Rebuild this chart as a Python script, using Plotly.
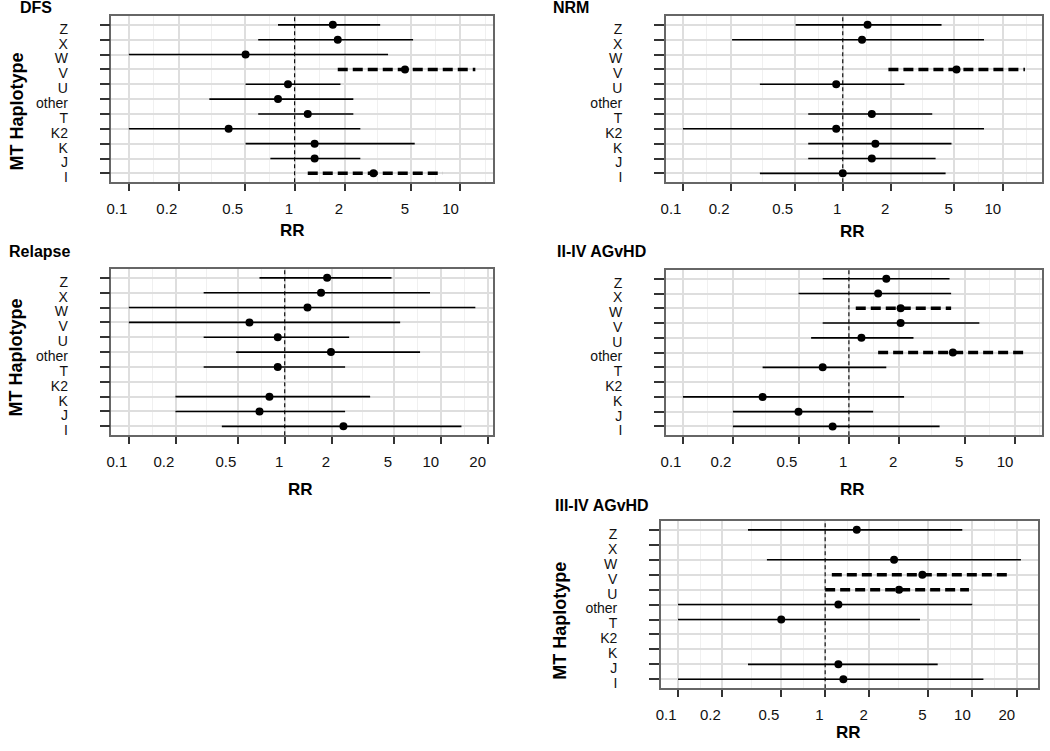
import math
import plotly.graph_objects as go

# ---------------- data ----------------
categories = ["I", "J", "K", "K2", "T", "other", "U", "V", "W", "X", "Z"]  # bottom -> top

panel_titles = ["DFS", "NRM", "Relapse", "II-IV AGvHD", "III-IV AGvHD"]

# estimates / lower CI / upper CI, order follows `categories`; None = not estimated
dfs_est = [2.99, 1.32, 1.32, 0.40, 1.20, 0.794, 0.912, 4.63, 0.506, 1.82, 1.70]
dfs_lo  = [1.20, 0.714, 0.506, 0.10, 0.603, 0.306, 0.506, 1.82, 0.10, 0.603, 0.794]
dfs_hi  = [7.83, 2.49, 5.30, 2.49, 2.26, 2.26, 1.89, 12.3, 3.66, 5.18, 3.28]
dfs_sig = [1, 0, 0, 0, 0, 0, 0, 1, 0, 0, 0]

nrm_est = [1.00, 1.52, 1.60, 0.91, 1.52, None, 0.91, 5.15, None, 1.32, 1.43]
nrm_lo  = [0.303, 0.608, 0.608, 0.10, 0.608, None, 0.303, 1.93, None, 0.203, 0.507]
nrm_hi  = [4.40, 3.81, 4.79, 7.65, 3.63, None, 2.43, 13.8, None, 7.65, 4.15]
nrm_sig = [0, 0, 0, 0, 0, 0, 0, 1, 0, 0, 0]

rel_est = [2.38, 0.689, 0.798, None, 0.902, 1.98, 0.902, 0.594, 1.40, 1.71, 1.87]
rel_lo  = [0.395, 0.199, 0.199, None, 0.302, 0.488, 0.302, 0.10, 0.10, 0.302, 0.689]
rel_hi  = [13.6, 2.44, 3.53, None, 2.44, 7.38, 2.59, 5.50, 16.7, 8.55, 4.84]
rel_sig = [0, 0, 0, 0, 0, 0, 0, 0, 0, 0, 0]

ag24_est = [0.798, 0.497, 0.302, None, 0.695, 4.23, 1.19, 2.05, 2.05, 1.50, 1.68]
ag24_lo  = [0.20, 0.20, 0.10, None, 0.302, 1.50, 0.592, 0.695, 1.10, 0.497, 0.695]
ag24_hi  = [3.52, 1.40, 2.15, None, 1.68, 11.5, 2.45, 6.11, 4.13, 4.13, 4.04]
ag24_sig = [0, 0, 0, 0, 0, 1, 0, 0, 1, 0, 0]

ag34_est = [1.33, 1.23, None, None, 0.503, 1.23, 3.18, 4.58, 2.94, None, 1.64]
ag34_lo  = [0.10, 0.299, None, None, 0.10, 0.10, 1.00, 1.11, 0.402, None, 0.299]
ag34_hi  = [11.9, 5.82, None, None, 4.41, 10.0, 9.49, 18.5, 21.4, None, 8.55]
ag34_sig = [0, 0, 0, 0, 0, 0, 1, 1, 0, 0, 0]

x_breaks = [0.1, 0.2, 0.5, 1, 2, 5, 10, 20]
x_break_labels = ["0.1", "0.2", "0.5", "1", "2", "5", "10", "20"]

panels = [
    (dfs_est, dfs_lo, dfs_hi, dfs_sig),
    (nrm_est, nrm_lo, nrm_hi, nrm_sig),
    (rel_est, rel_lo, rel_hi, rel_sig),
    (ag24_est, ag24_lo, ag24_hi, ag24_sig),
    (ag34_est, ag34_lo, ag34_hi, ag34_sig),
]

# ---------------- layout geometry (pixels) ----------------
W, H = 1050, 751
# left, right, top, bottom of each panel box
boxes = [
    (107, 490, 16, 183),
    (664, 1042, 16, 183),
    (107, 490, 270, 437),
    (664, 1042, 271, 437),
    (659, 1038, 523, 691),
]
# panel title (x left, y center)
title_pos = [(13, 8), (549, 8), (2, 253), (553, 253), (551, 508)]
# RR title centre
rr_pos = [(289, 231), (852, 232), (297, 491), (852, 491), (848, 735)]
# MT Haplotype title centre
mt_pos = {0: (12, 112), 2: (11, 359), 4: (557, 623)}

FONT = "Liberation Sans, Arial, Helvetica, sans-serif"

fig = go.Figure()
annotations = []


def px2paper_x(v):
    return v / W


def px2paper_y(v):
    return 1 - v / H


for i, (est, lo, hi, sig) in enumerate(panels):
    n = i + 1
    xa = "x" if n == 1 else f"x{n}"
    ya = "y" if n == 1 else f"y{n}"

    # range like ggplot: 5% expansion in log space
    lows = [math.log10(v) for v in lo if v is not None]
    highs = [math.log10(v) for v in hi if v is not None]
    lmin, lmax = min(lows), max(highs)
    ex = 0.05 * (lmax - lmin)
    xr = [lmin - ex, lmax + ex]

    # vertical reference line at RR=1
    fig.add_trace(go.Scatter(
        x=[1, 1], y=[-0.6, len(categories) - 1 + 0.6], mode="lines",
        line=dict(color="black", width=1.1, dash="4px,3px"),
        xaxis=xa, yaxis=ya, showlegend=False, hoverinfo="skip"))

    # CI segments: solid and dashed (significant)
    for flag, width, dash in [(0, 1.6, "solid"), (1, 3.5, "10px,5px")]:
        xs, ys = [], []
        for k, cat in enumerate(categories):
            if est[k] is None or sig[k] != flag:
                continue
            xs += [lo[k], hi[k], None]
            ys += [k, k, None]
        if xs:
            fig.add_trace(go.Scatter(
                x=xs, y=ys, mode="lines",
                line=dict(color="black", width=width, dash=dash),
                xaxis=xa, yaxis=ya, showlegend=False))

    px_ = [est[k] for k in range(len(categories)) if est[k] is not None]
    py_ = [k for k in range(len(categories)) if est[k] is not None]
    fig.add_trace(go.Scatter(
        x=px_, y=py_, mode="markers",
        marker=dict(color="black", size=8, symbol="circle"),
        xaxis=xa, yaxis=ya, showlegend=False))

    l, r, t, b = boxes[i]
    tv = [v for v in x_breaks if xr[0] <= math.log10(v) <= xr[1]]
    tt = [x_break_labels[x_breaks.index(v)] for v in tv]
    # minor grid: midpoints between breaks in log space
    logs = [math.log10(v) for v in x_breaks]
    step_logs = [-1.30103] + logs + [1.60206]
    minor = []
    for a, c in zip(step_logs[:-1], step_logs[1:]):
        m = (a + c) / 2
        if xr[0] <= m <= xr[1]:
            minor.append(10 ** m)

    fig.layout[("xaxis" if n == 1 else f"xaxis{n}")] = dict(
        type="log", range=xr, domain=[px2paper_x(l), px2paper_x(r)],
        anchor=ya, tickmode="array", tickvals=tv, ticktext=tt,
        ticks="outside", ticklen=7, tickwidth=1.5, tickcolor="#333333",
        ticklabelposition="outside left", ticklabelstandoff=12,
        tickfont=dict(family=FONT, size=15, color="#111111"),
        showgrid=True, gridcolor="#DEDEDE", gridwidth=1.5,
        minor=dict(tickmode="array", tickvals=minor, showgrid=True,
                   gridcolor="#F0F0F0", gridwidth=1, ticks=""),
        showline=True, mirror=True, linecolor="#666666", linewidth=1.5,
        zeroline=False, fixedrange=True)
    fig.layout[("yaxis" if n == 1 else f"yaxis{n}")] = dict(
        range=[-0.6, len(categories) - 1 + 0.6],
        domain=[px2paper_y(b), px2paper_y(t)], anchor=xa,
        tickmode="array", tickvals=list(range(len(categories))), ticktext=categories,
        ticks="outside", ticklen=10, tickwidth=1.5, tickcolor="#333333",
        ticklabelposition="outside", ticklabelstandoff=29, ticklabelshift=4,
        tickfont=dict(family=FONT, size=14, color="#111111"),
        showgrid=True, gridcolor="#DEDEDE", gridwidth=1.5,
        showline=True, mirror=True, linecolor="#666666", linewidth=1.5,
        zeroline=False, fixedrange=True)

    tx, ty = title_pos[i]
    annotations.append(dict(
        text=f"<b>{panel_titles[i]}</b>", x=px2paper_x(tx), y=px2paper_y(ty),
        xref="paper", yref="paper", xanchor="left", yanchor="middle",
        showarrow=False, font=dict(family=FONT, size=16, color="black")))
    rx, ry = rr_pos[i]
    annotations.append(dict(
        text="<b>RR</b>", x=px2paper_x(rx), y=px2paper_y(ry),
        xref="paper", yref="paper", xanchor="center", yanchor="middle",
        showarrow=False, font=dict(family=FONT, size=17, color="black")))
    if i in mt_pos:
        mx, my = mt_pos[i]
        annotations.append(dict(
            text="<b>MT Haplotype</b>", x=px2paper_x(mx), y=px2paper_y(my),
            xref="paper", yref="paper", xanchor="center", yanchor="middle",
            textangle=-90, showarrow=False,
            font=dict(family=FONT, size=18, color="black")))

fig.update_layout(
    width=W, height=H, margin=dict(l=0, r=0, t=0, b=0),
    paper_bgcolor="white", plot_bgcolor="white",
    annotations=annotations, showlegend=False)

fig.write_html(
    "out.html",
    config={"displayModeBar": False},
    post_script="document.body.style.margin='0';document.body.style.overflow='hidden';")
